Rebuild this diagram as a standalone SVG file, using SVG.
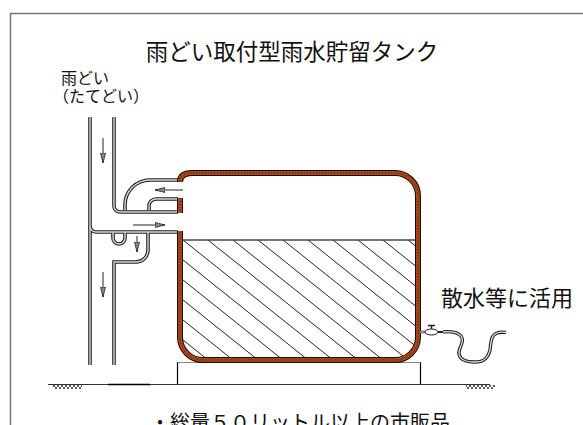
<svg xmlns="http://www.w3.org/2000/svg" width="583" height="425" viewBox="0 0 583 425">
  <style>
    .txt { font-family: "Noto Sans CJK JP", "Noto Sans", sans-serif; fill: #111; }
    .pipe-out { fill: none; stroke: #222; stroke-width: 3.6; stroke-linecap: butt; }
    .pipe-in { fill: none; stroke: #d8d8d8; stroke-width: 1.4; stroke-linecap: butt; }
    .tank-out { fill: none; stroke: #1a0a00; stroke-width: 6; }
    .tank-in { fill: none; stroke: #a4471c; stroke-width: 4; }
    .tank-dot { fill: none; stroke: #4a1a05; stroke-width: 1; stroke-dasharray: 1 2; }
    .arrow { stroke: #222; stroke-width: 1; fill: none; marker-end: url(#head); }
    .hatch { stroke: #222; stroke-width: 1; }
  </style>
  <defs>
    <marker id="head" viewBox="0 0 10 6" refX="10" refY="3" markerWidth="10" markerHeight="6" markerUnits="userSpaceOnUse" orient="auto">
      <path d="M0,0.5 L10,3 L0,5.5 Z" fill="#888" stroke="#222" stroke-width="0.8"/>
    </marker>
    <clipPath id="water">
      <path d="M182,240 H416 V337 A21 21 0 0 1 395 358 H203 A21 21 0 0 1 182 337 Z"/>
    </clipPath>
    <pattern id="earth" width="4" height="4" patternUnits="userSpaceOnUse">
      <path d="M0,4 L4,0 M0,0 L4,4" stroke="#333" stroke-width="0.8"/>
    </pattern>
  </defs>

  <rect width="583" height="425" fill="#fff"/>

  <!-- frame -->
  <path d="M10.5,425 V13.5 H583" fill="none" stroke="#777" stroke-width="1.5"/>

  <!-- headings -->
  <g id="title">
    <text class="txt" x="292" y="60" font-size="22.5" text-anchor="middle">雨どい取付型雨水貯留タンク</text>
  </g>
  <g id="label-downspout">
    <text class="txt" x="61" y="84" font-size="16">雨どい</text>
    <text class="txt" x="53" y="102" font-size="16">（たてどい）</text>
  </g>

  <!-- ground and base -->
  <g id="ground">
    <path d="M48,384.5 H490" stroke="#333" stroke-width="1.2"/>
    <path d="M108,384.5 H150" stroke="#000" stroke-width="1.6"/>
    <rect x="53" y="385" width="29" height="4" fill="url(#earth)"/>
    <rect x="466" y="385" width="29" height="4" fill="url(#earth)"/>
  </g>
  <g id="base">
    <path d="M177.5,384 V362.5 H420.5 V384" fill="#fff" stroke="#000" stroke-width="1.2"/>
    <path d="M177.5,362.5 H420.5" stroke="#888" stroke-width="1.2"/>
  </g>

  <!-- downspout and diverter -->
  <g id="downspout">
    <g class="pipe-out">
      <path d="M90,117 V365"/>
      <path d="M114,117 V206 A6,6 0 0 0 120,212 H178"/>
      <path d="M125,210 V205 A25,25 0 0 1 150,180 H179"/>
      <path d="M149,210 V206 A7,7 0 0 1 156,199 H178"/>
      <path d="M90,226 A6,6 0 0 0 96,232 H178"/>
      <path d="M113,232 V238 A6,6 0 0 0 125,238 V232"/>
      <path d="M148,232 V250 A12,12 0 0 1 136,262 H114 V365"/>
    </g>
    <g class="pipe-in">
      <path d="M90,117 V365"/>
      <path d="M114,117 V206 A6,6 0 0 0 120,212 H178"/>
      <path d="M125,210 V205 A25,25 0 0 1 150,180 H179"/>
      <path d="M149,210 V206 A7,7 0 0 1 156,199 H178"/>
      <path d="M90,226 A6,6 0 0 0 96,232 H178"/>
      <path d="M113,232 V238 A6,6 0 0 0 125,238 V232"/>
      <path d="M148,232 V250 A12,12 0 0 1 136,262 H114 V365"/>
    </g>
  </g>

  <!-- tank -->
  <g id="tank">
    <g class="hatch" clip-path="url(#water)">
      <path d="M58,140 L358,380 M83,140 L383,380 M108,140 L408,380 M133,140 L433,380 M158,140 L458,380 M183,140 L483,380 M208,140 L508,380 M233,140 L533,380 M258,140 L558,380 M283,140 L583,380 M308,140 L608,380 M333,140 L633,380 M358,140 L658,380"/>
      <path d="M158,240 L458,480 M133,240 L433,480 M108,240 L408,480 M83,240 L383,480 M58,240 L358,480 M33,240 L333,480"/>
    </g>
    <path d="M182,240 H416" stroke="#3a4a5a" stroke-width="1.4"/>
    <path class="tank-out" d="M180,182 C180,176 184,173 192,173 H395 A23,23 0 0 1 418,196 V337 A23,23 0 0 1 395,360 H203 A23,23 0 0 1 180,337 V231 M180,198 V213"/>
    <path class="tank-in" d="M180,182 C180,176 184,173 192,173 H395 A23,23 0 0 1 418,196 V337 A23,23 0 0 1 395,360 H203 A23,23 0 0 1 180,337 V231 M180,198 V213"/>
    <path class="tank-dot" d="M180,182 C180,176 184,173 192,173 H395 A23,23 0 0 1 418,196 V337 A23,23 0 0 1 395,360 H203 A23,23 0 0 1 180,337 V231 M180,198 V213"/>
  </g>

  <!-- flow arrows -->
  <g id="connectors">
    <path class="arrow" d="M103,138 V163"/>
    <path class="arrow" d="M183,190 H155"/>
    <path class="arrow" d="M133,225 H165"/>
    <path class="arrow" d="M137,236 V252"/>
    <path class="arrow" d="M103,272 V297"/>
  </g>

  <!-- tap and hose -->
  <g id="tap">
    <path d="M420,332 H427" stroke="#333" stroke-width="2.5"/>
    <path d="M420,332 H427" stroke="#ddd" stroke-width="1"/>
    <ellipse cx="431.5" cy="332" rx="6.5" ry="3" fill="#fff" stroke="#222" stroke-width="1"/>
    <path d="M431.5,329 V325.5 M428,325.5 H435" stroke="#222" stroke-width="1.5"/>
    <path d="M438,332 H443" stroke="#222" stroke-width="2"/>
    <path d="M443,332 C450,331 460,332 462,338 C464,344 458,348 459,354 C460,360 466,362 475,362 C484,362 488,358 490,350 C491,342 491,335 497,333 C500,332 503,332 506,332.5" fill="none" stroke="#222" stroke-width="3.4"/>
    <path d="M443,332 C450,331 460,332 462,338 C464,344 458,348 459,354 C460,360 466,362 475,362 C484,362 488,358 490,350 C491,342 491,335 497,333 C500,332 503,332 506,332.5" fill="none" stroke="#ddd" stroke-width="1.3"/>
  </g>
  <g id="label-use">
    <text class="txt" x="441" y="306" font-size="22">散水等に活用</text>
  </g>

  <g id="note">
    <text class="txt" x="300" y="430" font-size="20" text-anchor="middle">・総量５０リットル以上の市販品</text>
  </g>
</svg>
